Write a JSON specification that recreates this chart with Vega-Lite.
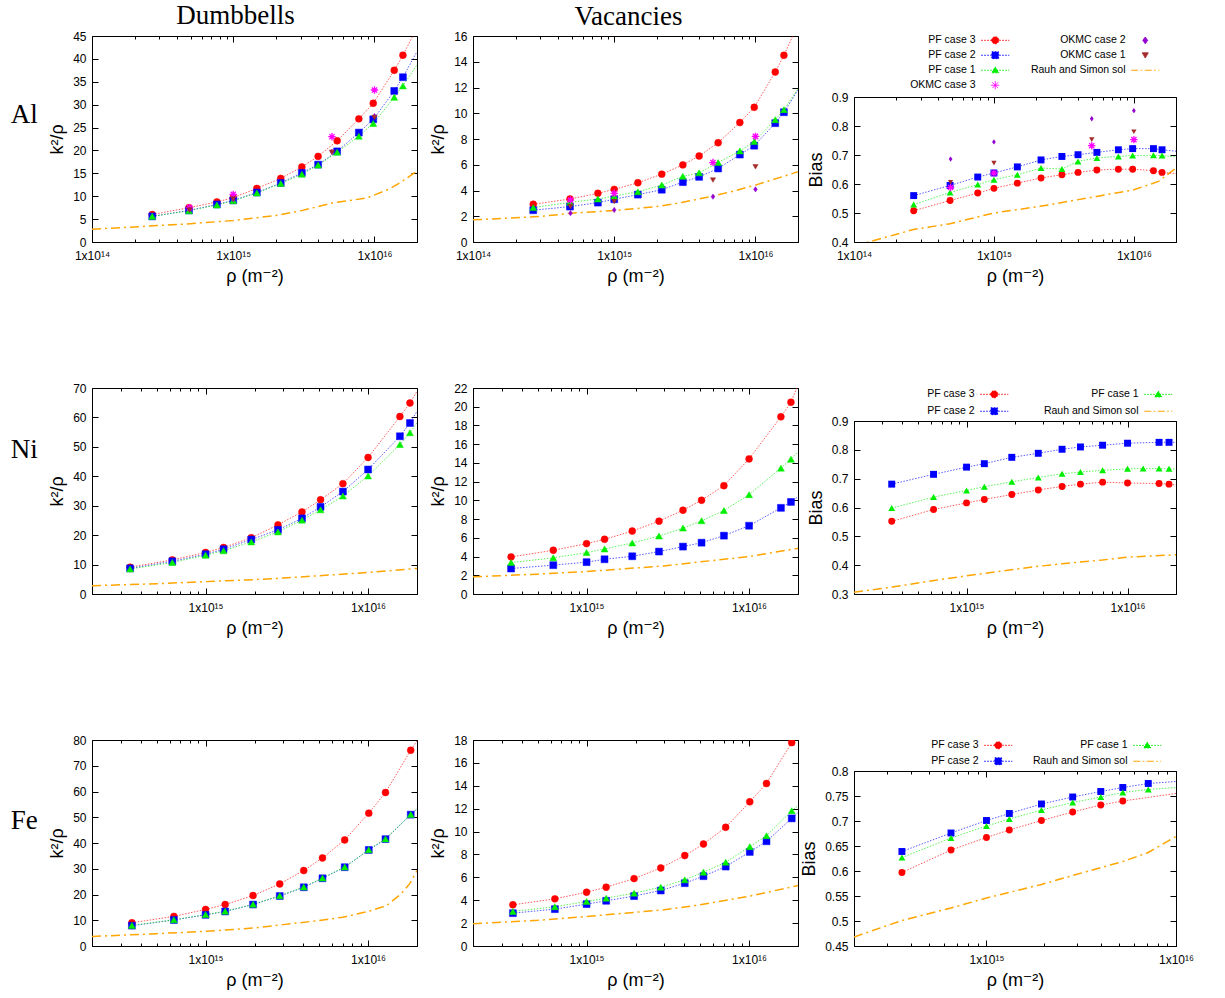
{
"$schema":"https://vega.github.io/schema/vega-lite/v6.json",
"background":"white",
"padding":{"left":10,"top":0,"right":5,"bottom":5},
"columns":3,"bounds":"flush","align":"all","spacing":{"row":146,"column":56},
"resolve":{"scale":{"color":"independent","stroke":"independent","shape":"independent","fill":"independent","strokeDash":"independent"}},
"config":{
 "view":{"stroke":"#000","strokeWidth":1},
 "axis":{"grid":false,"domain":false,"ticks":true,"tickColor":"#000","tickWidth":1,"labelFont":"Liberation Sans, DejaVu Sans, sans-serif","labelFontSize":12,"labelColor":"#000","labelFlush":false,"labelOverlap":false,"labelBound":false,"titleFont":"Liberation Sans, DejaVu Sans, sans-serif","titleFontSize":18,"titleFontWeight":"normal","titleColor":"#000"},
 "title":{"font":"Liberation Serif","fontSize":27,"fontWeight":"normal","color":"#000"},
 "legend":{"labelFont":"Liberation Sans, DejaVu Sans, sans-serif","labelFontSize":10.5,"labelColor":"#000"}
},
"concat":[
{
 "width":325,"height":206,
 "title":{"text":"Al","orient":"left","angle":0,"align":"right","baseline":"alphabetic","offset":-16,"dy":-16},
 "data":{"values":[
{"s":"Rauh and Simon sol","g":"th","p":0,"x":1e14,"y":2.8},{"s":"Rauh and Simon sol","g":"th","p":0,"x":2e14,"y":3.3},{"s":"Rauh and Simon sol","g":"th","p":0,"x":5e14,"y":4.0},{"s":"Rauh and Simon sol","g":"th","p":0,"x":1e15,"y":4.7},{"s":"Rauh and Simon sol","g":"th","p":0,"x":2e15,"y":5.8},{"s":"Rauh and Simon sol","g":"th","p":0,"x":3e15,"y":6.8},{"s":"Rauh and Simon sol","g":"th","p":0,"x":5e15,"y":8.5},{"s":"Rauh and Simon sol","g":"th","p":0,"x":8.8e15,"y":9.6},{"s":"Rauh and Simon sol","g":"th","p":0,"x":1.28e16,"y":11.6},{"s":"Rauh and Simon sol","g":"th","p":0,"x":1.51e16,"y":12.9},{"s":"Rauh and Simon sol","g":"th","p":0,"x":2e16,"y":15.5},
{"s":"PF case 3","g":"pf","p":1,"x":2.67e14,"y":6.0},{"s":"PF case 3","g":"pf","p":1,"x":4.86e14,"y":7.5},{"s":"PF case 3","g":"pf","p":1,"x":7.66e14,"y":8.75},{"s":"PF case 3","g":"pf","p":1,"x":1e15,"y":9.7},{"s":"PF case 3","g":"pf","p":1,"x":1.47e15,"y":11.7},{"s":"PF case 3","g":"pf","p":1,"x":2.17e15,"y":13.9},{"s":"PF case 3","g":"pf","p":1,"x":3.06e15,"y":16.4},{"s":"PF case 3","g":"pf","p":1,"x":3.99e15,"y":18.7},{"s":"PF case 3","g":"pf","p":1,"x":5.44e15,"y":22.1},{"s":"PF case 3","g":"pf","p":1,"x":7.75e15,"y":26.9},{"s":"PF case 3","g":"pf","p":1,"x":9.8e15,"y":30.3},{"s":"PF case 3","g":"pf","p":1,"x":1.38e16,"y":37.5},{"s":"PF case 3","g":"pf","p":1,"x":1.59e16,"y":40.8},{"s":"PF case 3","g":"pf","p":0,"x":2e16,"y":46.8},
{"s":"PF case 2","g":"pf","p":1,"x":2.67e14,"y":5.6},{"s":"PF case 2","g":"pf","p":1,"x":4.86e14,"y":6.9},{"s":"PF case 2","g":"pf","p":1,"x":7.66e14,"y":8.2},{"s":"PF case 2","g":"pf","p":1,"x":1e15,"y":9.1},{"s":"PF case 2","g":"pf","p":1,"x":1.47e15,"y":10.8},{"s":"PF case 2","g":"pf","p":1,"x":2.17e15,"y":12.9},{"s":"PF case 2","g":"pf","p":1,"x":3.06e15,"y":15.1},{"s":"PF case 2","g":"pf","p":1,"x":3.99e15,"y":16.9},{"s":"PF case 2","g":"pf","p":1,"x":5.44e15,"y":19.8},{"s":"PF case 2","g":"pf","p":1,"x":7.75e15,"y":23.9},{"s":"PF case 2","g":"pf","p":1,"x":9.8e15,"y":26.8},{"s":"PF case 2","g":"pf","p":1,"x":1.38e16,"y":33.0},{"s":"PF case 2","g":"pf","p":1,"x":1.59e16,"y":36.0},{"s":"PF case 2","g":"pf","p":0,"x":2e16,"y":41.6},
{"s":"PF case 1","g":"pf","p":1,"x":2.67e14,"y":5.6},{"s":"PF case 1","g":"pf","p":1,"x":4.86e14,"y":6.8},{"s":"PF case 1","g":"pf","p":1,"x":7.66e14,"y":8.1},{"s":"PF case 1","g":"pf","p":1,"x":1e15,"y":9.0},{"s":"PF case 1","g":"pf","p":1,"x":1.47e15,"y":10.7},{"s":"PF case 1","g":"pf","p":1,"x":2.17e15,"y":12.8},{"s":"PF case 1","g":"pf","p":1,"x":3.06e15,"y":14.8},{"s":"PF case 1","g":"pf","p":1,"x":3.99e15,"y":16.8},{"s":"PF case 1","g":"pf","p":1,"x":5.44e15,"y":19.6},{"s":"PF case 1","g":"pf","p":1,"x":7.75e15,"y":23.1},{"s":"PF case 1","g":"pf","p":1,"x":9.8e15,"y":25.9},{"s":"PF case 1","g":"pf","p":1,"x":1.38e16,"y":31.6},{"s":"PF case 1","g":"pf","p":1,"x":1.59e16,"y":34.1},{"s":"PF case 1","g":"pf","p":0,"x":2e16,"y":38.7},
{"s":"OKMC case 3","g":"okmc","p":1,"x":4.9e14,"y":7.5},{"s":"OKMC case 3","g":"okmc","p":1,"x":1e15,"y":10.4},{"s":"OKMC case 3","g":"okmc","p":1,"x":5e15,"y":23.0},{"s":"OKMC case 3","g":"okmc","p":1,"x":1e16,"y":33.2},
{"s":"OKMC case 2","g":"okmc","p":1,"x":4.9e14,"y":7.1},{"s":"OKMC case 2","g":"okmc","p":1,"x":1e15,"y":9.3},{"s":"OKMC case 2","g":"okmc","p":1,"x":5e15,"y":19.7},{"s":"OKMC case 2","g":"okmc","p":1,"x":1e16,"y":27.5},
{"s":"OKMC case 1","g":"okmc","p":1,"x":4.9e14,"y":7.0},{"s":"OKMC case 1","g":"okmc","p":1,"x":1e15,"y":9.4},{"s":"OKMC case 1","g":"okmc","p":1,"x":5e15,"y":19.6},{"s":"OKMC case 1","g":"okmc","p":1,"x":1e16,"y":27.2}
 ]},
 "layer":[
  {"transform":[{"filter":"datum.g=='th'"}],"mark":{"type":"line","color":"#ffa500","strokeWidth":1.5,"strokeDash":[9,4,2,4],"clip":true},
   "encoding":{
    "x":{"field":"x","type":"quantitative","scale":{"type":"log","domain":[1e14,2e16],"nice":false},"axis":{"orient":"top","values":[1e14,2e14,3e14,4e14,5e14,6e14,7e14,8e14,9e14,1e15,2e15,3e15,4e15,5e15,6e15,7e15,8e15,9e15,1e16,2e16],"labels":false,"tickSize":{"condition":{"test":"datum.value==1e14||datum.value==1e15||datum.value==1e16","value":-6},"value":-3},"title":"Dumbbells","titleFont":"Liberation Serif","titleFontSize":27,"titleFontWeight":"normal","titleX":143,"titleY":-13,"titleBaseline":"alphabetic","titleAlign":"center","titleAngle":0}},
    "y":{"field":"y","type":"quantitative","scale":{"domain":[0,45],"nice":false,"zero":false},"axis":{"orient":"right","values":[0,5,10,15,20,25,30,35,40,45],"labels":false,"tickSize":-6,"title":null}}}},
  {"transform":[{"filter":"datum.g=='pf'"}],"mark":{"type":"line","strokeWidth":1,"strokeDash":[1.5,1.5],"opacity":0.65,"clip":true},
   "encoding":{
    "x":{"field":"x","type":"quantitative","scale":{"type":"log","domain":[1e14,2e16],"nice":false},"axis":null},
    "y":{"field":"y","type":"quantitative","scale":{"domain":[0,45],"nice":false,"zero":false},"axis":null},
    "stroke":{"field":"s","type":"nominal","scale":{"domain":["PF case 3","PF case 2","PF case 1","OKMC case 3","OKMC case 2","OKMC case 1","Rauh and Simon sol"],"range":["#ff0000","#0000ff","#00ee00","#ff00ff","#9400d3","#a52a2a","#ffa500"]},"legend":null}}},
  {"transform":[{"filter":"datum.p==1"}],"mark":{"type":"point","filled":true,"opacity":1,"clip":true},
   "encoding":{
    "x":{"field":"x","type":"quantitative","scale":{"type":"log","domain":[1e14,2e16],"nice":false},"axis":{"orient":"bottom","values":[1e14,2e14,3e14,4e14,5e14,6e14,7e14,8e14,9e14,1e15,2e15,3e15,4e15,5e15,6e15,7e15,8e15,9e15,1e16,2e16],"labelExpr":"datum.value==1e14?'1x10¹⁴':datum.value==1e15?'1x10¹⁵':datum.value==1e16?'1x10¹⁶':''","tickSize":{"condition":{"test":"datum.value==1e14||datum.value==1e15||datum.value==1e16","value":-6},"value":-3},"labelPadding":14,"title":"ρ (m⁻²)","titlePadding":3}},
    "y":{"field":"y","type":"quantitative","scale":{"domain":[0,45],"nice":false,"zero":false},"axis":{"orient":"left","values":[0,5,10,15,20,25,30,35,40,45],"tickSize":-6,"labelPadding":12,"title":"k²/ρ","titlePadding":6}},
    "color":{"field":"s","type":"nominal","scale":{"domain":["PF case 3","PF case 2","PF case 1","OKMC case 3","OKMC case 2","OKMC case 1","Rauh and Simon sol"],"range":["#ff0000","#0000ff","#00ee00","#ff00ff","#9400d3","#a52a2a","#ffa500"]},"legend":null},
    "stroke":{"field":"s","type":"nominal","scale":{"domain":["PF case 3","PF case 2","PF case 1","OKMC case 3","OKMC case 2","OKMC case 1","Rauh and Simon sol"],"range":["#ff0000","#0000ff","#00ee00","#ff00ff","#9400d3","#a52a2a","#ffa500"]},"legend":null},
    "shape":{"field":"s","type":"nominal","scale":{"domain":["PF case 3","PF case 2","PF case 1","OKMC case 3","OKMC case 2","OKMC case 1","Rauh and Simon sol"],"range":["circle","square","triangle-up","M-1,0H1M0,-1V1M-0.7,-0.7L0.7,0.7M-0.7,0.7L0.7,-0.7","M0,-1L0.7,0L0,1L-0.7,0Z","triangle-down","circle"]},"legend":null},
    "size":{"condition":[{"test":"datum.s=='OKMC case 3'","value":55},{"test":"datum.g=='okmc'","value":28}],"value":48},
    "strokeWidth":{"condition":{"test":"datum.s=='OKMC case 3'","value":1.3},"value":0.5}}}
 ],
 "resolve":{"axis":{"x":"independent","y":"independent"}}
},
{
 "width":325,"height":206,
 "data":{"values":[
{"s":"Rauh and Simon sol","g":"th","p":0,"x":1e14,"y":1.72},{"s":"Rauh and Simon sol","g":"th","p":0,"x":3e14,"y":1.98},{"s":"Rauh and Simon sol","g":"th","p":0,"x":5e14,"y":2.24},{"s":"Rauh and Simon sol","g":"th","p":0,"x":1e15,"y":2.44},{"s":"Rauh and Simon sol","g":"th","p":0,"x":2e15,"y":2.75},{"s":"Rauh and Simon sol","g":"th","p":0,"x":3e15,"y":3.06},{"s":"Rauh and Simon sol","g":"th","p":0,"x":5e15,"y":3.57},{"s":"Rauh and Simon sol","g":"th","p":0,"x":7e15,"y":3.96},{"s":"Rauh and Simon sol","g":"th","p":0,"x":1e16,"y":4.42},{"s":"Rauh and Simon sol","g":"th","p":0,"x":2e16,"y":5.45},
{"s":"PF case 3","g":"pf","p":1,"x":2.67e14,"y":2.93},{"s":"PF case 3","g":"pf","p":1,"x":4.86e14,"y":3.34},{"s":"PF case 3","g":"pf","p":1,"x":7.66e14,"y":3.78},{"s":"PF case 3","g":"pf","p":1,"x":1e15,"y":4.09},{"s":"PF case 3","g":"pf","p":1,"x":1.47e15,"y":4.6},{"s":"PF case 3","g":"pf","p":1,"x":2.17e15,"y":5.27},{"s":"PF case 3","g":"pf","p":1,"x":3.06e15,"y":5.99},{"s":"PF case 3","g":"pf","p":1,"x":3.99e15,"y":6.68},{"s":"PF case 3","g":"pf","p":1,"x":5.44e15,"y":7.71},{"s":"PF case 3","g":"pf","p":1,"x":7.75e15,"y":9.28},{"s":"PF case 3","g":"pf","p":1,"x":9.8e15,"y":10.46},{"s":"PF case 3","g":"pf","p":1,"x":1.38e16,"y":13.2},{"s":"PF case 3","g":"pf","p":1,"x":1.59e16,"y":14.5},{"s":"PF case 3","g":"pf","p":0,"x":2e16,"y":16.9},
{"s":"PF case 2","g":"pf","p":1,"x":2.67e14,"y":2.47},{"s":"PF case 2","g":"pf","p":1,"x":4.86e14,"y":2.75},{"s":"PF case 2","g":"pf","p":1,"x":7.66e14,"y":3.06},{"s":"PF case 2","g":"pf","p":1,"x":1e15,"y":3.32},{"s":"PF case 2","g":"pf","p":1,"x":1.47e15,"y":3.68},{"s":"PF case 2","g":"pf","p":1,"x":2.17e15,"y":4.06},{"s":"PF case 2","g":"pf","p":1,"x":3.06e15,"y":4.65},{"s":"PF case 2","g":"pf","p":1,"x":3.99e15,"y":5.06},{"s":"PF case 2","g":"pf","p":1,"x":5.44e15,"y":5.71},{"s":"PF case 2","g":"pf","p":1,"x":7.75e15,"y":6.79},{"s":"PF case 2","g":"pf","p":1,"x":9.8e15,"y":7.48},{"s":"PF case 2","g":"pf","p":1,"x":1.38e16,"y":9.23},{"s":"PF case 2","g":"pf","p":1,"x":1.59e16,"y":10.08},{"s":"PF case 2","g":"pf","p":0,"x":2e16,"y":11.8},
{"s":"PF case 1","g":"pf","p":1,"x":2.67e14,"y":2.67},{"s":"PF case 1","g":"pf","p":1,"x":4.86e14,"y":3.08},{"s":"PF case 1","g":"pf","p":1,"x":7.66e14,"y":3.34},{"s":"PF case 1","g":"pf","p":1,"x":1e15,"y":3.57},{"s":"PF case 1","g":"pf","p":1,"x":1.47e15,"y":3.9},{"s":"PF case 1","g":"pf","p":1,"x":2.17e15,"y":4.42},{"s":"PF case 1","g":"pf","p":1,"x":3.06e15,"y":5.1},{"s":"PF case 1","g":"pf","p":1,"x":3.99e15,"y":5.37},{"s":"PF case 1","g":"pf","p":1,"x":5.44e15,"y":6.17},{"s":"PF case 1","g":"pf","p":1,"x":7.75e15,"y":7.07},{"s":"PF case 1","g":"pf","p":1,"x":9.8e15,"y":7.8},{"s":"PF case 1","g":"pf","p":1,"x":1.38e16,"y":9.5},{"s":"PF case 1","g":"pf","p":1,"x":1.59e16,"y":10.28},{"s":"PF case 1","g":"pf","p":0,"x":2e16,"y":11.9},
{"s":"OKMC case 3","g":"okmc","p":1,"x":4.9e14,"y":3.26},{"s":"OKMC case 3","g":"okmc","p":1,"x":1e15,"y":3.78},{"s":"OKMC case 3","g":"okmc","p":1,"x":5e15,"y":6.17},{"s":"OKMC case 3","g":"okmc","p":1,"x":1e16,"y":8.2},
{"s":"OKMC case 2","g":"okmc","p":1,"x":4.9e14,"y":2.24},{"s":"OKMC case 2","g":"okmc","p":1,"x":1e15,"y":2.49},{"s":"OKMC case 2","g":"okmc","p":1,"x":5e15,"y":3.52},{"s":"OKMC case 2","g":"okmc","p":1,"x":1e16,"y":4.09},
{"s":"OKMC case 1","g":"okmc","p":1,"x":4.9e14,"y":2.75},{"s":"OKMC case 1","g":"okmc","p":1,"x":1e15,"y":3.14},{"s":"OKMC case 1","g":"okmc","p":1,"x":5e15,"y":4.81},{"s":"OKMC case 1","g":"okmc","p":1,"x":1e16,"y":5.84}
 ]},
 "layer":[
  {"transform":[{"filter":"datum.g=='th'"}],"mark":{"type":"line","color":"#ffa500","strokeWidth":1.5,"strokeDash":[9,4,2,4],"clip":true},
   "encoding":{
    "x":{"field":"x","type":"quantitative","scale":{"type":"log","domain":[1e14,2e16],"nice":false},"axis":{"orient":"top","values":[1e14,2e14,3e14,4e14,5e14,6e14,7e14,8e14,9e14,1e15,2e15,3e15,4e15,5e15,6e15,7e15,8e15,9e15,1e16,2e16],"labels":false,"tickSize":{"condition":{"test":"datum.value==1e14||datum.value==1e15||datum.value==1e16","value":-6},"value":-3},"title":"Vacancies","titleFont":"Liberation Serif","titleFontSize":27,"titleFontWeight":"normal","titleX":155,"titleY":-12,"titleBaseline":"alphabetic","titleAlign":"center","titleAngle":0}},
    "y":{"field":"y","type":"quantitative","scale":{"domain":[0,16],"nice":false,"zero":false},"axis":{"orient":"right","values":[0,2,4,6,8,10,12,14,16],"labels":false,"tickSize":-6,"title":null}}}},
  {"transform":[{"filter":"datum.g=='pf'"}],"mark":{"type":"line","strokeWidth":1,"strokeDash":[1.5,1.5],"opacity":0.65,"clip":true},
   "encoding":{
    "x":{"field":"x","type":"quantitative","scale":{"type":"log","domain":[1e14,2e16],"nice":false},"axis":null},
    "y":{"field":"y","type":"quantitative","scale":{"domain":[0,16],"nice":false,"zero":false},"axis":null},
    "stroke":{"field":"s","type":"nominal","scale":{"domain":["PF case 3","PF case 2","PF case 1","OKMC case 3","OKMC case 2","OKMC case 1","Rauh and Simon sol"],"range":["#ff0000","#0000ff","#00ee00","#ff00ff","#9400d3","#a52a2a","#ffa500"]},"legend":null}}},
  {"transform":[{"filter":"datum.p==1"}],"mark":{"type":"point","filled":true,"opacity":1,"clip":true},
   "encoding":{
    "x":{"field":"x","type":"quantitative","scale":{"type":"log","domain":[1e14,2e16],"nice":false},"axis":{"orient":"bottom","values":[1e14,2e14,3e14,4e14,5e14,6e14,7e14,8e14,9e14,1e15,2e15,3e15,4e15,5e15,6e15,7e15,8e15,9e15,1e16,2e16],"labelExpr":"datum.value==1e14?'1x10¹⁴':datum.value==1e15?'1x10¹⁵':datum.value==1e16?'1x10¹⁶':''","tickSize":{"condition":{"test":"datum.value==1e14||datum.value==1e15||datum.value==1e16","value":-6},"value":-3},"labelPadding":14,"title":"ρ (m⁻²)","titlePadding":3}},
    "y":{"field":"y","type":"quantitative","scale":{"domain":[0,16],"nice":false,"zero":false},"axis":{"orient":"left","values":[0,2,4,6,8,10,12,14,16],"tickSize":-6,"labelPadding":12,"title":"k²/ρ","titlePadding":6}},
    "color":{"field":"s","type":"nominal","scale":{"domain":["PF case 3","PF case 2","PF case 1","OKMC case 3","OKMC case 2","OKMC case 1","Rauh and Simon sol"],"range":["#ff0000","#0000ff","#00ee00","#ff00ff","#9400d3","#a52a2a","#ffa500"]},"legend":null},
    "stroke":{"field":"s","type":"nominal","scale":{"domain":["PF case 3","PF case 2","PF case 1","OKMC case 3","OKMC case 2","OKMC case 1","Rauh and Simon sol"],"range":["#ff0000","#0000ff","#00ee00","#ff00ff","#9400d3","#a52a2a","#ffa500"]},"legend":null},
    "shape":{"field":"s","type":"nominal","scale":{"domain":["PF case 3","PF case 2","PF case 1","OKMC case 3","OKMC case 2","OKMC case 1","Rauh and Simon sol"],"range":["circle","square","triangle-up","M-1,0H1M0,-1V1M-0.7,-0.7L0.7,0.7M-0.7,0.7L0.7,-0.7","M0,-1L0.7,0L0,1L-0.7,0Z","triangle-down","circle"]},"legend":null},
    "size":{"condition":[{"test":"datum.s=='OKMC case 3'","value":55},{"test":"datum.g=='okmc'","value":28}],"value":48},
    "strokeWidth":{"condition":{"test":"datum.s=='OKMC case 3'","value":1.3},"value":0.5}}}
 ],
 "resolve":{"axis":{"x":"independent","y":"independent"}}
},
{
 "vconcat":[
  {"width":322,"height":61,"data":{"values":[]},"mark":"point","view":{"stroke":null}},
  {
   "width":322,"height":145,
   "data":{"values":[
{"s":"Rauh and Simon sol","g":"th","p":0,"x":1e14,"y":0.386},{"s":"Rauh and Simon sol","g":"th","p":0,"x":2.66e14,"y":0.443},{"s":"Rauh and Simon sol","g":"th","p":0,"x":4.85e14,"y":0.463},{"s":"Rauh and Simon sol","g":"th","p":0,"x":1e15,"y":0.5},{"s":"Rauh and Simon sol","g":"th","p":0,"x":2.14e15,"y":0.523},{"s":"Rauh and Simon sol","g":"th","p":0,"x":5.4e15,"y":0.557},{"s":"Rauh and Simon sol","g":"th","p":0,"x":1e16,"y":0.58},{"s":"Rauh and Simon sol","g":"th","p":0,"x":1.5e16,"y":0.609},{"s":"Rauh and Simon sol","g":"th","p":0,"x":2e16,"y":0.655},
{"s":"PF case 3","g":"pf","p":1,"x":2.67e14,"y":0.508},{"s":"PF case 3","g":"pf","p":1,"x":4.86e14,"y":0.543},{"s":"PF case 3","g":"pf","p":1,"x":7.66e14,"y":0.569},{"s":"PF case 3","g":"pf","p":1,"x":1e15,"y":0.585},{"s":"PF case 3","g":"pf","p":1,"x":1.47e15,"y":0.603},{"s":"PF case 3","g":"pf","p":1,"x":2.17e15,"y":0.621},{"s":"PF case 3","g":"pf","p":1,"x":3.06e15,"y":0.632},{"s":"PF case 3","g":"pf","p":1,"x":3.99e15,"y":0.640},{"s":"PF case 3","g":"pf","p":1,"x":5.44e15,"y":0.648},{"s":"PF case 3","g":"pf","p":1,"x":7.75e15,"y":0.651},{"s":"PF case 3","g":"pf","p":1,"x":9.8e15,"y":0.651},{"s":"PF case 3","g":"pf","p":1,"x":1.38e16,"y":0.646},{"s":"PF case 3","g":"pf","p":1,"x":1.59e16,"y":0.640},{"s":"PF case 3","g":"pf","p":0,"x":2e16,"y":0.636},
{"s":"PF case 2","g":"pf","p":1,"x":2.67e14,"y":0.560},{"s":"PF case 2","g":"pf","p":1,"x":4.86e14,"y":0.595},{"s":"PF case 2","g":"pf","p":1,"x":7.66e14,"y":0.624},{"s":"PF case 2","g":"pf","p":1,"x":1e15,"y":0.638},{"s":"PF case 2","g":"pf","p":1,"x":1.47e15,"y":0.659},{"s":"PF case 2","g":"pf","p":1,"x":2.17e15,"y":0.683},{"s":"PF case 2","g":"pf","p":1,"x":3.06e15,"y":0.695},{"s":"PF case 2","g":"pf","p":1,"x":3.99e15,"y":0.701},{"s":"PF case 2","g":"pf","p":1,"x":5.44e15,"y":0.709},{"s":"PF case 2","g":"pf","p":1,"x":7.75e15,"y":0.718},{"s":"PF case 2","g":"pf","p":1,"x":9.8e15,"y":0.722},{"s":"PF case 2","g":"pf","p":1,"x":1.38e16,"y":0.722},{"s":"PF case 2","g":"pf","p":1,"x":1.59e16,"y":0.718},{"s":"PF case 2","g":"pf","p":0,"x":2e16,"y":0.713},
{"s":"PF case 1","g":"pf","p":1,"x":2.67e14,"y":0.529},{"s":"PF case 1","g":"pf","p":1,"x":4.86e14,"y":0.571},{"s":"PF case 1","g":"pf","p":1,"x":7.66e14,"y":0.598},{"s":"PF case 1","g":"pf","p":1,"x":1e15,"y":0.615},{"s":"PF case 1","g":"pf","p":1,"x":1.47e15,"y":0.632},{"s":"PF case 1","g":"pf","p":1,"x":2.17e15,"y":0.655},{"s":"PF case 1","g":"pf","p":1,"x":3.06e15,"y":0.652},{"s":"PF case 1","g":"pf","p":1,"x":3.99e15,"y":0.678},{"s":"PF case 1","g":"pf","p":1,"x":5.44e15,"y":0.690},{"s":"PF case 1","g":"pf","p":1,"x":7.75e15,"y":0.695},{"s":"PF case 1","g":"pf","p":1,"x":9.8e15,"y":0.698},{"s":"PF case 1","g":"pf","p":1,"x":1.38e16,"y":0.699},{"s":"PF case 1","g":"pf","p":1,"x":1.59e16,"y":0.698},{"s":"PF case 1","g":"pf","p":0,"x":2e16,"y":0.693},
{"s":"OKMC case 3","g":"okmc","p":1,"x":4.9e14,"y":0.588},{"s":"OKMC case 3","g":"okmc","p":1,"x":1e15,"y":0.638},{"s":"OKMC case 3","g":"okmc","p":1,"x":5e15,"y":0.732},{"s":"OKMC case 3","g":"okmc","p":1,"x":1e16,"y":0.753},
{"s":"OKMC case 2","g":"okmc","p":1,"x":4.9e14,"y":0.686},{"s":"OKMC case 2","g":"okmc","p":1,"x":1e15,"y":0.745},{"s":"OKMC case 2","g":"okmc","p":1,"x":5e15,"y":0.825},{"s":"OKMC case 2","g":"okmc","p":1,"x":1e16,"y":0.853},
{"s":"OKMC case 1","g":"okmc","p":1,"x":4.9e14,"y":0.606},{"s":"OKMC case 1","g":"okmc","p":1,"x":1e15,"y":0.672},{"s":"OKMC case 1","g":"okmc","p":1,"x":5e15,"y":0.753},{"s":"OKMC case 1","g":"okmc","p":1,"x":1e16,"y":0.780}
   ]},
   "encoding":{
    "x":{"field":"x","type":"quantitative","scale":{"type":"log","domain":[1e14,2e16],"nice":false},"axis":null},
    "y":{"field":"y","type":"quantitative","scale":{"domain":[0.4,0.9],"nice":false,"zero":false},"axis":null}},
   "layer":[
    {"transform":[{"filter":"datum.g=='th'"}],"mark":{"type":"line","color":"#ffa500","strokeWidth":1.5,"strokeDash":[9,4,2,4],"clip":true},
     "encoding":{
      "x":{"field":"x","type":"quantitative","scale":{"type":"log","domain":[1e14,2e16],"nice":false},"axis":{"orient":"top","values":[1e14,2e14,3e14,4e14,5e14,6e14,7e14,8e14,9e14,1e15,2e15,3e15,4e15,5e15,6e15,7e15,8e15,9e15,1e16,2e16],"labels":false,"tickSize":{"condition":{"test":"datum.value==1e14||datum.value==1e15||datum.value==1e16","value":-6},"value":-3},"title":null}},
      "y":{"field":"y","type":"quantitative","scale":{"domain":[0.4,0.9],"nice":false,"zero":false},"axis":{"orient":"right","values":[0.4,0.5,0.6,0.7,0.8,0.9],"labels":false,"tickSize":-6,"title":null}}}},
    {"transform":[{"filter":"datum.g=='pf'"}],"mark":{"type":"line","strokeWidth":1,"strokeOpacity":0.65,"clip":true},
     "encoding":{
      "stroke":{"field":"s","type":"nominal","scale":{"domain":["PF case 3","PF case 2","PF case 1","OKMC case 3","OKMC case 2","OKMC case 1","Rauh and Simon sol"],"range":["#ff0000","#0000ff","#00ee00","#ff00ff","#9400d3","#a52a2a","#ffa500"]}},
      "strokeDash":{"field":"s","type":"nominal","scale":{"domain":["PF case 3","PF case 2","PF case 1","OKMC case 3","OKMC case 2","OKMC case 1","Rauh and Simon sol"],"range":[[1.5,1.5],[1.5,1.5],[1.5,1.5],[1,0],[1,0],[1,0],[7,2.5,1.5,2.5]]}}}},
    {"transform":[{"filter":"datum.p==1&&datum.s=='PF case 3'"}],"mark":{"type":"point","filled":true,"shape":"circle","color":"#ff0000","size":48,"opacity":1,"clip":true},
     "encoding":{
      "x":{"field":"x","type":"quantitative","scale":{"type":"log","domain":[1e14,2e16],"nice":false},"axis":{"orient":"bottom","values":[1e14,2e14,3e14,4e14,5e14,6e14,7e14,8e14,9e14,1e15,2e15,3e15,4e15,5e15,6e15,7e15,8e15,9e15,1e16,2e16],"labelExpr":"datum.value==1e14?'1x10¹⁴':datum.value==1e15?'1x10¹⁵':datum.value==1e16?'1x10¹⁶':''","tickSize":{"condition":{"test":"datum.value==1e14||datum.value==1e15||datum.value==1e16","value":-6},"value":-3},"labelPadding":14,"title":"ρ (m⁻²)","titlePadding":3}},
      "y":{"field":"y","type":"quantitative","scale":{"domain":[0.4,0.9],"nice":false,"zero":false},"axis":{"orient":"left","values":[0.4,0.5,0.6,0.7,0.8,0.9],"format":".1f","tickSize":-6,"labelPadding":12,"title":"Bias","titlePadding":6}}}},
    {"transform":[{"filter":"datum.p==1&&datum.s=='PF case 2'"}],"mark":{"type":"point","filled":true,"shape":"square","color":"#0000ff","size":48,"opacity":1,"clip":true}},
    {"transform":[{"filter":"datum.p==1&&datum.s=='PF case 1'"}],"mark":{"type":"point","filled":true,"shape":"triangle-up","color":"#00ee00","size":48,"opacity":1,"clip":true}},
    {"transform":[{"filter":"datum.s=='OKMC case 3'"}],"mark":{"type":"point","filled":false,"shape":"M-1,0H1M0,-1V1M-0.7,-0.7L0.7,0.7M-0.7,0.7L0.7,-0.7","color":"#ff00ff","size":55,"strokeWidth":1.3,"opacity":1,"clip":true}},
    {"transform":[{"filter":"datum.s=='OKMC case 2'"}],"mark":{"type":"point","filled":true,"shape":"M0,-1L0.7,0L0,1L-0.7,0Z","color":"#9400d3","size":28,"opacity":1,"clip":true}},
    {"transform":[{"filter":"datum.s=='OKMC case 1'"}],"mark":{"type":"point","filled":true,"shape":"triangle-down","color":"#a52a2a","size":28,"opacity":1,"clip":true}},
    {"transform":[{"filter":"datum.p==99"}],"mark":{"type":"point","filled":true,"opacity":1},
     "encoding":{
      "shape":{"field":"s","type":"nominal","scale":{"domain":["PF case 3","PF case 2","PF case 1","OKMC case 3","OKMC case 2","OKMC case 1","Rauh and Simon sol"],"range":["M-3.5,0H3.5M-0.9,0A0.9,0.9,0,1,1,0.9,0A0.9,0.9,0,1,1,-0.9,0Z","M-3.5,0H3.5M-0.85,-0.85H0.85V0.85H-0.85Z","M-3.5,0H3.5M0,-0.85L0.9,0.65H-0.9Z","M-1,0H1M0,-1V1M-0.7,-0.7L0.7,0.7M-0.7,0.7L0.7,-0.7","M0,-0.85L0.6,0L0,0.85L-0.6,0Z","M-0.75,-0.6H0.75L0,0.7Z","M-3.5,0H3.5"]},
       "legend":{"title":null,"orient":"none","legendX":136,"legendY":-62,"direction":"vertical","columns":2,"gridAlign":"each","padding":0,"labelAlign":"right","labelOffset":-25,"rowPadding":3,"columnPadding":18,"symbolSize":64,"symbolStrokeWidth":1,"symbolOpacity":1}},
      "fill":{"field":"s","type":"nominal","scale":{"domain":["PF case 3","PF case 2","PF case 1","OKMC case 3","OKMC case 2","OKMC case 1","Rauh and Simon sol"],"range":["#ff0000","#0000ff","#00ee00","#ff00ff","#9400d3","#a52a2a","#ffa500"]}},
      "stroke":{"field":"s","type":"nominal","scale":{"domain":["PF case 3","PF case 2","PF case 1","OKMC case 3","OKMC case 2","OKMC case 1","Rauh and Simon sol"],"range":["#ff0000","#0000ff","#00ee00","#ff00ff","#9400d3","#a52a2a","#ffa500"]}},
      "strokeDash":{"field":"s","type":"nominal","scale":{"domain":["PF case 3","PF case 2","PF case 1","OKMC case 3","OKMC case 2","OKMC case 1","Rauh and Simon sol"],"range":[[1.5,1.5],[1.5,1.5],[1.5,1.5],[1,0],[1,0],[1,0],[7,2.5,1.5,2.5]]}}}}
   ],
   "resolve":{"axis":{"x":"independent","y":"independent"}}
  }
 ],
 "spacing":0,"bounds":"flush",
 "resolve":{"scale":{"color":"independent","stroke":"independent","shape":"independent","fill":"independent","strokeDash":"independent"}}
},
{
 "width":325,"height":206,
 "title":{"text":"Ni","orient":"left","angle":0,"align":"right","baseline":"alphabetic","offset":-16,"dy":-33},
 "data":{"values":[
{"s":"Rauh and Simon sol","g":"th","p":0,"x":2e14,"y":2.8},{"s":"Rauh and Simon sol","g":"th","p":0,"x":5e14,"y":3.5},{"s":"Rauh and Simon sol","g":"th","p":0,"x":1e15,"y":4.2},{"s":"Rauh and Simon sol","g":"th","p":0,"x":2e15,"y":4.9},{"s":"Rauh and Simon sol","g":"th","p":0,"x":3e15,"y":5.4},{"s":"Rauh and Simon sol","g":"th","p":0,"x":5e15,"y":6.2},{"s":"Rauh and Simon sol","g":"th","p":0,"x":1e16,"y":7.3},{"s":"Rauh and Simon sol","g":"th","p":0,"x":2e16,"y":8.7},
{"s":"PF case 3","g":"pf","p":1,"x":3.43e14,"y":9.1},{"s":"PF case 3","g":"pf","p":1,"x":6.24e14,"y":11.6},{"s":"PF case 3","g":"pf","p":1,"x":1e15,"y":14.1},{"s":"PF case 3","g":"pf","p":1,"x":1.29e15,"y":15.8},{"s":"PF case 3","g":"pf","p":1,"x":1.91e15,"y":19.1},{"s":"PF case 3","g":"pf","p":1,"x":2.79e15,"y":23.5},{"s":"PF case 3","g":"pf","p":1,"x":3.92e15,"y":27.9},{"s":"PF case 3","g":"pf","p":1,"x":5.1e15,"y":32.0},{"s":"PF case 3","g":"pf","p":1,"x":7.0e15,"y":37.5},{"s":"PF case 3","g":"pf","p":1,"x":1e16,"y":46.4},{"s":"PF case 3","g":"pf","p":1,"x":1.57e16,"y":60.3},{"s":"PF case 3","g":"pf","p":1,"x":1.81e16,"y":64.9},{"s":"PF case 3","g":"pf","p":0,"x":2e16,"y":68.9},
{"s":"PF case 2","g":"pf","p":1,"x":3.43e14,"y":8.7},{"s":"PF case 2","g":"pf","p":1,"x":6.24e14,"y":11.1},{"s":"PF case 2","g":"pf","p":1,"x":1e15,"y":13.5},{"s":"PF case 2","g":"pf","p":1,"x":1.29e15,"y":15.2},{"s":"PF case 2","g":"pf","p":1,"x":1.91e15,"y":18.5},{"s":"PF case 2","g":"pf","p":1,"x":2.79e15,"y":21.8},{"s":"PF case 2","g":"pf","p":1,"x":3.92e15,"y":25.7},{"s":"PF case 2","g":"pf","p":1,"x":5.1e15,"y":29.6},{"s":"PF case 2","g":"pf","p":1,"x":7.0e15,"y":34.8},{"s":"PF case 2","g":"pf","p":1,"x":1e16,"y":42.3},{"s":"PF case 2","g":"pf","p":1,"x":1.57e16,"y":53.6},{"s":"PF case 2","g":"pf","p":1,"x":1.81e16,"y":58.1},{"s":"PF case 2","g":"pf","p":0,"x":2e16,"y":62.1},
{"s":"PF case 1","g":"pf","p":1,"x":3.43e14,"y":8.5},{"s":"PF case 1","g":"pf","p":1,"x":6.24e14,"y":10.7},{"s":"PF case 1","g":"pf","p":1,"x":1e15,"y":13.2},{"s":"PF case 1","g":"pf","p":1,"x":1.29e15,"y":14.7},{"s":"PF case 1","g":"pf","p":1,"x":1.91e15,"y":17.7},{"s":"PF case 1","g":"pf","p":1,"x":2.79e15,"y":21.1},{"s":"PF case 1","g":"pf","p":1,"x":3.92e15,"y":25.1},{"s":"PF case 1","g":"pf","p":1,"x":5.1e15,"y":28.6},{"s":"PF case 1","g":"pf","p":1,"x":7.0e15,"y":33.3},{"s":"PF case 1","g":"pf","p":1,"x":1e16,"y":40.1},{"s":"PF case 1","g":"pf","p":1,"x":1.57e16,"y":50.8},{"s":"PF case 1","g":"pf","p":1,"x":1.81e16,"y":54.8},{"s":"PF case 1","g":"pf","p":0,"x":2e16,"y":58.1}
 ]},
 "layer":[
  {"transform":[{"filter":"datum.g=='th'"}],"mark":{"type":"line","color":"#ffa500","strokeWidth":1.5,"strokeDash":[9,4,2,4],"clip":true},
   "encoding":{
    "x":{"field":"x","type":"quantitative","scale":{"type":"log","domain":[2e14,2e16],"nice":false},"axis":{"orient":"top","values":[2e14,3e14,4e14,5e14,6e14,7e14,8e14,9e14,1e15,2e15,3e15,4e15,5e15,6e15,7e15,8e15,9e15,1e16,2e16],"labels":false,"tickSize":{"condition":{"test":"datum.value==1e14||datum.value==1e15||datum.value==1e16","value":-6},"value":-3},"title":null}},
    "y":{"field":"y","type":"quantitative","scale":{"domain":[0,70],"nice":false,"zero":false},"axis":{"orient":"right","values":[0,10,20,30,40,50,60,70],"labels":false,"tickSize":-6,"title":null}}}},
  {"transform":[{"filter":"datum.g=='pf'"}],"mark":{"type":"line","strokeWidth":1,"strokeDash":[1.5,1.5],"opacity":0.65,"clip":true},
   "encoding":{
    "x":{"field":"x","type":"quantitative","scale":{"type":"log","domain":[2e14,2e16],"nice":false},"axis":null},
    "y":{"field":"y","type":"quantitative","scale":{"domain":[0,70],"nice":false,"zero":false},"axis":null},
    "stroke":{"field":"s","type":"nominal","scale":{"domain":["PF case 3","PF case 2","PF case 1","Rauh and Simon sol"],"range":["#ff0000","#0000ff","#00ee00","#ffa500"]},"legend":null}}},
  {"transform":[{"filter":"datum.p==1"}],"mark":{"type":"point","filled":true,"opacity":1,"clip":true},
   "encoding":{
    "x":{"field":"x","type":"quantitative","scale":{"type":"log","domain":[2e14,2e16],"nice":false},"axis":{"orient":"bottom","values":[2e14,3e14,4e14,5e14,6e14,7e14,8e14,9e14,1e15,2e15,3e15,4e15,5e15,6e15,7e15,8e15,9e15,1e16,2e16],"labelExpr":"datum.value==1e14?'1x10¹⁴':datum.value==1e15?'1x10¹⁵':datum.value==1e16?'1x10¹⁶':''","tickSize":{"condition":{"test":"datum.value==1e14||datum.value==1e15||datum.value==1e16","value":-6},"value":-3},"labelPadding":14,"title":"ρ (m⁻²)","titlePadding":3}},
    "y":{"field":"y","type":"quantitative","scale":{"domain":[0,70],"nice":false,"zero":false},"axis":{"orient":"left","values":[0,10,20,30,40,50,60,70],"tickSize":-6,"labelPadding":12,"title":"k²/ρ","titlePadding":6}},
    "color":{"field":"s","type":"nominal","scale":{"domain":["PF case 3","PF case 2","PF case 1","Rauh and Simon sol"],"range":["#ff0000","#0000ff","#00ee00","#ffa500"]},"legend":null},
    "stroke":{"field":"s","type":"nominal","scale":{"domain":["PF case 3","PF case 2","PF case 1","Rauh and Simon sol"],"range":["#ff0000","#0000ff","#00ee00","#ffa500"]},"legend":null},
    "shape":{"field":"s","type":"nominal","scale":{"domain":["PF case 3","PF case 2","PF case 1","Rauh and Simon sol"],"range":["circle","square","triangle-up","circle"]},"legend":null},
    "size":{"value":48},"strokeWidth":{"value":0.5}}}
 ],
 "resolve":{"axis":{"x":"independent","y":"independent"}}
},
{
 "width":325,"height":206,
 "data":{"values":[
{"s":"Rauh and Simon sol","g":"th","p":0,"x":2e14,"y":1.84},{"s":"Rauh and Simon sol","g":"th","p":0,"x":5e14,"y":2.12},{"s":"Rauh and Simon sol","g":"th","p":0,"x":1e15,"y":2.4},{"s":"Rauh and Simon sol","g":"th","p":0,"x":3e15,"y":3.0},{"s":"Rauh and Simon sol","g":"th","p":0,"x":5e15,"y":3.43},{"s":"Rauh and Simon sol","g":"th","p":0,"x":1e16,"y":4.0},{"s":"Rauh and Simon sol","g":"th","p":0,"x":2e16,"y":4.88},
{"s":"PF case 3","g":"pf","p":1,"x":3.43e14,"y":3.96},{"s":"PF case 3","g":"pf","p":1,"x":6.24e14,"y":4.67},{"s":"PF case 3","g":"pf","p":1,"x":1e15,"y":5.38},{"s":"PF case 3","g":"pf","p":1,"x":1.29e15,"y":5.84},{"s":"PF case 3","g":"pf","p":1,"x":1.91e15,"y":6.72},{"s":"PF case 3","g":"pf","p":1,"x":2.79e15,"y":7.78},{"s":"PF case 3","g":"pf","p":1,"x":3.92e15,"y":8.95},{"s":"PF case 3","g":"pf","p":1,"x":5.1e15,"y":10.01},{"s":"PF case 3","g":"pf","p":1,"x":7.0e15,"y":11.57},{"s":"PF case 3","g":"pf","p":1,"x":1e16,"y":14.43},{"s":"PF case 3","g":"pf","p":1,"x":1.57e16,"y":18.92},{"s":"PF case 3","g":"pf","p":1,"x":1.81e16,"y":20.48},{"s":"PF case 3","g":"pf","p":0,"x":2e16,"y":22.3},
{"s":"PF case 2","g":"pf","p":1,"x":3.43e14,"y":2.72},{"s":"PF case 2","g":"pf","p":1,"x":6.24e14,"y":3.08},{"s":"PF case 2","g":"pf","p":1,"x":1e15,"y":3.4},{"s":"PF case 2","g":"pf","p":1,"x":1.29e15,"y":3.71},{"s":"PF case 2","g":"pf","p":1,"x":1.91e15,"y":4.03},{"s":"PF case 2","g":"pf","p":1,"x":2.79e15,"y":4.53},{"s":"PF case 2","g":"pf","p":1,"x":3.92e15,"y":5.06},{"s":"PF case 2","g":"pf","p":1,"x":5.1e15,"y":5.48},{"s":"PF case 2","g":"pf","p":1,"x":7.0e15,"y":6.23},{"s":"PF case 2","g":"pf","p":1,"x":1e16,"y":7.29},{"s":"PF case 2","g":"pf","p":1,"x":1.57e16,"y":9.2},{"s":"PF case 2","g":"pf","p":1,"x":1.81e16,"y":9.83},{"s":"PF case 2","g":"pf","p":0,"x":2e16,"y":10.4},
{"s":"PF case 1","g":"pf","p":1,"x":3.43e14,"y":3.36},{"s":"PF case 1","g":"pf","p":1,"x":6.24e14,"y":3.86},{"s":"PF case 1","g":"pf","p":1,"x":1e15,"y":4.42},{"s":"PF case 1","g":"pf","p":1,"x":1.29e15,"y":4.81},{"s":"PF case 1","g":"pf","p":1,"x":1.91e15,"y":5.45},{"s":"PF case 1","g":"pf","p":1,"x":2.79e15,"y":6.19},{"s":"PF case 1","g":"pf","p":1,"x":3.92e15,"y":7.04},{"s":"PF case 1","g":"pf","p":1,"x":5.1e15,"y":7.82},{"s":"PF case 1","g":"pf","p":1,"x":7.0e15,"y":8.91},{"s":"PF case 1","g":"pf","p":1,"x":1e16,"y":10.61},{"s":"PF case 1","g":"pf","p":1,"x":1.57e16,"y":13.44},{"s":"PF case 1","g":"pf","p":1,"x":1.81e16,"y":14.4},{"s":"PF case 1","g":"pf","p":0,"x":2e16,"y":15.2}
 ]},
 "layer":[
  {"transform":[{"filter":"datum.g=='th'"}],"mark":{"type":"line","color":"#ffa500","strokeWidth":1.5,"strokeDash":[9,4,2,4],"clip":true},
   "encoding":{
    "x":{"field":"x","type":"quantitative","scale":{"type":"log","domain":[2e14,2e16],"nice":false},"axis":{"orient":"top","values":[2e14,3e14,4e14,5e14,6e14,7e14,8e14,9e14,1e15,2e15,3e15,4e15,5e15,6e15,7e15,8e15,9e15,1e16,2e16],"labels":false,"tickSize":{"condition":{"test":"datum.value==1e14||datum.value==1e15||datum.value==1e16","value":-6},"value":-3},"title":null}},
    "y":{"field":"y","type":"quantitative","scale":{"domain":[0,22],"nice":false,"zero":false},"axis":{"orient":"right","values":[0,2,4,6,8,10,12,14,16,18,20,22],"labels":false,"tickSize":-6,"title":null}}}},
  {"transform":[{"filter":"datum.g=='pf'"}],"mark":{"type":"line","strokeWidth":1,"strokeDash":[1.5,1.5],"opacity":0.65,"clip":true},
   "encoding":{
    "x":{"field":"x","type":"quantitative","scale":{"type":"log","domain":[2e14,2e16],"nice":false},"axis":null},
    "y":{"field":"y","type":"quantitative","scale":{"domain":[0,22],"nice":false,"zero":false},"axis":null},
    "stroke":{"field":"s","type":"nominal","scale":{"domain":["PF case 3","PF case 2","PF case 1","Rauh and Simon sol"],"range":["#ff0000","#0000ff","#00ee00","#ffa500"]},"legend":null}}},
  {"transform":[{"filter":"datum.p==1"}],"mark":{"type":"point","filled":true,"opacity":1,"clip":true},
   "encoding":{
    "x":{"field":"x","type":"quantitative","scale":{"type":"log","domain":[2e14,2e16],"nice":false},"axis":{"orient":"bottom","values":[2e14,3e14,4e14,5e14,6e14,7e14,8e14,9e14,1e15,2e15,3e15,4e15,5e15,6e15,7e15,8e15,9e15,1e16,2e16],"labelExpr":"datum.value==1e14?'1x10¹⁴':datum.value==1e15?'1x10¹⁵':datum.value==1e16?'1x10¹⁶':''","tickSize":{"condition":{"test":"datum.value==1e14||datum.value==1e15||datum.value==1e16","value":-6},"value":-3},"labelPadding":14,"title":"ρ (m⁻²)","titlePadding":3}},
    "y":{"field":"y","type":"quantitative","scale":{"domain":[0,22],"nice":false,"zero":false},"axis":{"orient":"left","values":[0,2,4,6,8,10,12,14,16,18,20,22],"tickSize":-6,"labelPadding":12,"title":"k²/ρ","titlePadding":6}},
    "color":{"field":"s","type":"nominal","scale":{"domain":["PF case 3","PF case 2","PF case 1","Rauh and Simon sol"],"range":["#ff0000","#0000ff","#00ee00","#ffa500"]},"legend":null},
    "stroke":{"field":"s","type":"nominal","scale":{"domain":["PF case 3","PF case 2","PF case 1","Rauh and Simon sol"],"range":["#ff0000","#0000ff","#00ee00","#ffa500"]},"legend":null},
    "shape":{"field":"s","type":"nominal","scale":{"domain":["PF case 3","PF case 2","PF case 1","Rauh and Simon sol"],"range":["circle","square","triangle-up","circle"]},"legend":null},
    "size":{"value":48},"strokeWidth":{"value":0.5}}}
 ],
 "resolve":{"axis":{"x":"independent","y":"independent"}}
},
{
 "vconcat":[
  {"width":322,"height":33,"data":{"values":[]},"mark":"point","view":{"stroke":null}},
  {
   "width":322,"height":173,
   "data":{"values":[
{"s":"Rauh and Simon sol","g":"th","p":0,"x":2e14,"y":0.306},{"s":"Rauh and Simon sol","g":"th","p":0,"x":3.45e14,"y":0.324},{"s":"Rauh and Simon sol","g":"th","p":0,"x":6.28e14,"y":0.347},{"s":"Rauh and Simon sol","g":"th","p":0,"x":1e15,"y":0.363},{"s":"Rauh and Simon sol","g":"th","p":0,"x":1.9e15,"y":0.384},{"s":"Rauh and Simon sol","g":"th","p":0,"x":2.78e15,"y":0.396},{"s":"Rauh and Simon sol","g":"th","p":0,"x":3.92e15,"y":0.405},{"s":"Rauh and Simon sol","g":"th","p":0,"x":7e15,"y":0.418},{"s":"Rauh and Simon sol","g":"th","p":0,"x":1e16,"y":0.428},{"s":"Rauh and Simon sol","g":"th","p":0,"x":2e16,"y":0.436},
{"s":"PF case 3","g":"pf","p":1,"x":3.43e14,"y":0.552},{"s":"PF case 3","g":"pf","p":1,"x":6.24e14,"y":0.593},{"s":"PF case 3","g":"pf","p":1,"x":1e15,"y":0.616},{"s":"PF case 3","g":"pf","p":1,"x":1.29e15,"y":0.628},{"s":"PF case 3","g":"pf","p":1,"x":1.91e15,"y":0.645},{"s":"PF case 3","g":"pf","p":1,"x":2.79e15,"y":0.661},{"s":"PF case 3","g":"pf","p":1,"x":3.92e15,"y":0.673},{"s":"PF case 3","g":"pf","p":1,"x":5.1e15,"y":0.681},{"s":"PF case 3","g":"pf","p":1,"x":7.0e15,"y":0.688},{"s":"PF case 3","g":"pf","p":1,"x":1e16,"y":0.685},{"s":"PF case 3","g":"pf","p":1,"x":1.57e16,"y":0.683},{"s":"PF case 3","g":"pf","p":1,"x":1.81e16,"y":0.681},{"s":"PF case 3","g":"pf","p":0,"x":2e16,"y":0.678},
{"s":"PF case 2","g":"pf","p":1,"x":3.43e14,"y":0.681},{"s":"PF case 2","g":"pf","p":1,"x":6.24e14,"y":0.715},{"s":"PF case 2","g":"pf","p":1,"x":1e15,"y":0.74},{"s":"PF case 2","g":"pf","p":1,"x":1.29e15,"y":0.752},{"s":"PF case 2","g":"pf","p":1,"x":1.91e15,"y":0.774},{"s":"PF case 2","g":"pf","p":1,"x":2.79e15,"y":0.788},{"s":"PF case 2","g":"pf","p":1,"x":3.92e15,"y":0.802},{"s":"PF case 2","g":"pf","p":1,"x":5.1e15,"y":0.81},{"s":"PF case 2","g":"pf","p":1,"x":7.0e15,"y":0.816},{"s":"PF case 2","g":"pf","p":1,"x":1e16,"y":0.823},{"s":"PF case 2","g":"pf","p":1,"x":1.57e16,"y":0.826},{"s":"PF case 2","g":"pf","p":1,"x":1.81e16,"y":0.826},{"s":"PF case 2","g":"pf","p":0,"x":2e16,"y":0.826},
{"s":"PF case 1","g":"pf","p":1,"x":3.43e14,"y":0.598},{"s":"PF case 1","g":"pf","p":1,"x":6.24e14,"y":0.636},{"s":"PF case 1","g":"pf","p":1,"x":1e15,"y":0.659},{"s":"PF case 1","g":"pf","p":1,"x":1.29e15,"y":0.672},{"s":"PF case 1","g":"pf","p":1,"x":1.91e15,"y":0.689},{"s":"PF case 1","g":"pf","p":1,"x":2.79e15,"y":0.704},{"s":"PF case 1","g":"pf","p":1,"x":3.92e15,"y":0.717},{"s":"PF case 1","g":"pf","p":1,"x":5.1e15,"y":0.723},{"s":"PF case 1","g":"pf","p":1,"x":7.0e15,"y":0.729},{"s":"PF case 1","g":"pf","p":1,"x":1e16,"y":0.734},{"s":"PF case 1","g":"pf","p":1,"x":1.25e16,"y":0.735},{"s":"PF case 1","g":"pf","p":1,"x":1.57e16,"y":0.735},{"s":"PF case 1","g":"pf","p":1,"x":1.81e16,"y":0.734},{"s":"PF case 1","g":"pf","p":0,"x":2e16,"y":0.733}
   ]},
   "encoding":{
    "x":{"field":"x","type":"quantitative","scale":{"type":"log","domain":[2e14,2e16],"nice":false},"axis":null},
    "y":{"field":"y","type":"quantitative","scale":{"domain":[0.3,0.9],"nice":false,"zero":false},"axis":null}},
   "layer":[
    {"transform":[{"filter":"datum.g=='th'"}],"mark":{"type":"line","color":"#ffa500","strokeWidth":1.5,"strokeDash":[9,4,2,4],"clip":true},
     "encoding":{
      "x":{"field":"x","type":"quantitative","scale":{"type":"log","domain":[2e14,2e16],"nice":false},"axis":{"orient":"top","values":[2e14,3e14,4e14,5e14,6e14,7e14,8e14,9e14,1e15,2e15,3e15,4e15,5e15,6e15,7e15,8e15,9e15,1e16,2e16],"labels":false,"tickSize":{"condition":{"test":"datum.value==1e14||datum.value==1e15||datum.value==1e16","value":-6},"value":-3},"title":null}},
      "y":{"field":"y","type":"quantitative","scale":{"domain":[0.3,0.9],"nice":false,"zero":false},"axis":{"orient":"right","values":[0.3,0.4,0.5,0.6,0.7,0.8,0.9],"labels":false,"tickSize":-6,"title":null}}}},
    {"transform":[{"filter":"datum.g=='pf'"}],"mark":{"type":"line","strokeWidth":1,"strokeOpacity":0.65,"clip":true},
     "encoding":{
      "stroke":{"field":"s","type":"nominal","scale":{"domain":["PF case 3","PF case 2","PF case 1","Rauh and Simon sol"],"range":["#ff0000","#0000ff","#00ee00","#ffa500"]}},
      "strokeDash":{"field":"s","type":"nominal","scale":{"domain":["PF case 3","PF case 2","PF case 1","Rauh and Simon sol"],"range":[[1.5,1.5],[1.5,1.5],[1.5,1.5],[7,2.5,1.5,2.5]]}}}},
    {"transform":[{"filter":"datum.p==1&&datum.s=='PF case 3'"}],"mark":{"type":"point","filled":true,"shape":"circle","color":"#ff0000","size":48,"opacity":1,"clip":true},
     "encoding":{
      "x":{"field":"x","type":"quantitative","scale":{"type":"log","domain":[2e14,2e16],"nice":false},"axis":{"orient":"bottom","values":[2e14,3e14,4e14,5e14,6e14,7e14,8e14,9e14,1e15,2e15,3e15,4e15,5e15,6e15,7e15,8e15,9e15,1e16,2e16],"labelExpr":"datum.value==1e14?'1x10¹⁴':datum.value==1e15?'1x10¹⁵':datum.value==1e16?'1x10¹⁶':''","tickSize":{"condition":{"test":"datum.value==1e14||datum.value==1e15||datum.value==1e16","value":-6},"value":-3},"labelPadding":14,"title":"ρ (m⁻²)","titlePadding":3}},
      "y":{"field":"y","type":"quantitative","scale":{"domain":[0.3,0.9],"nice":false,"zero":false},"axis":{"orient":"left","values":[0.3,0.4,0.5,0.6,0.7,0.8,0.9],"format":".1f","tickSize":-6,"labelPadding":12,"title":"Bias","titlePadding":6}}}},
    {"transform":[{"filter":"datum.p==1&&datum.s=='PF case 2'"}],"mark":{"type":"point","filled":true,"shape":"square","color":"#0000ff","size":48,"opacity":1,"clip":true}},
    {"transform":[{"filter":"datum.p==1&&datum.s=='PF case 1'"}],"mark":{"type":"point","filled":true,"shape":"triangle-up","color":"#00ee00","size":48,"opacity":1,"clip":true}},
    {"transform":[{"filter":"datum.p==99"}],"mark":{"type":"point","filled":true,"opacity":1},
     "encoding":{
      "shape":{"field":"s","type":"nominal","scale":{"domain":["PF case 3","PF case 2","PF case 1","Rauh and Simon sol"],"range":["M-3.5,0H3.5M-0.9,0A0.9,0.9,0,1,1,0.9,0A0.9,0.9,0,1,1,-0.9,0Z","M-3.5,0H3.5M-0.85,-0.85H0.85V0.85H-0.85Z","M-3.5,0H3.5M0,-0.85L0.9,0.65H-0.9Z","M-3.5,0H3.5"]},
       "legend":{"title":null,"orient":"none","legendX":135,"legendY":-32,"direction":"vertical","columns":2,"gridAlign":"each","padding":0,"labelAlign":"right","labelOffset":-25,"rowPadding":5,"columnPadding":32,"symbolSize":64,"symbolStrokeWidth":1,"symbolOpacity":1}},
      "fill":{"field":"s","type":"nominal","scale":{"domain":["PF case 3","PF case 2","PF case 1","Rauh and Simon sol"],"range":["#ff0000","#0000ff","#00ee00","#ffa500"]}},
      "stroke":{"field":"s","type":"nominal","scale":{"domain":["PF case 3","PF case 2","PF case 1","Rauh and Simon sol"],"range":["#ff0000","#0000ff","#00ee00","#ffa500"]}},
      "strokeDash":{"field":"s","type":"nominal","scale":{"domain":["PF case 3","PF case 2","PF case 1","Rauh and Simon sol"],"range":[[1.5,1.5],[1.5,1.5],[1.5,1.5],[7,2.5,1.5,2.5]]}}}}
   ],
   "resolve":{"axis":{"x":"independent","y":"independent"}}
  }
 ],
 "spacing":0,"bounds":"flush",
 "resolve":{"scale":{"color":"independent","stroke":"independent","shape":"independent","fill":"independent","strokeDash":"independent"}}
},
{
 "width":325,"height":206,
 "title":{"text":"Fe","orient":"left","angle":0,"align":"right","baseline":"alphabetic","offset":-16,"dy":-14},
 "data":{"values":[
{"s":"Rauh and Simon sol","g":"th","p":0,"x":2e14,"y":3.7},{"s":"Rauh and Simon sol","g":"th","p":0,"x":5e14,"y":4.8},{"s":"Rauh and Simon sol","g":"th","p":0,"x":1e15,"y":5.7},{"s":"Rauh and Simon sol","g":"th","p":0,"x":2e15,"y":7.0},{"s":"Rauh and Simon sol","g":"th","p":0,"x":3e15,"y":8.3},{"s":"Rauh and Simon sol","g":"th","p":0,"x":5e15,"y":9.9},{"s":"Rauh and Simon sol","g":"th","p":0,"x":7e15,"y":11.2},{"s":"Rauh and Simon sol","g":"th","p":0,"x":1e16,"y":13.4},{"s":"Rauh and Simon sol","g":"th","p":0,"x":1.3e16,"y":15.7},{"s":"Rauh and Simon sol","g":"th","p":0,"x":1.6e16,"y":20.3},{"s":"Rauh and Simon sol","g":"th","p":0,"x":1.8e16,"y":24.1},{"s":"Rauh and Simon sol","g":"th","p":0,"x":2e16,"y":29.3},
{"s":"PF case 3","g":"pf","p":1,"x":3.52e14,"y":9.0},{"s":"PF case 3","g":"pf","p":1,"x":6.38e14,"y":11.5},{"s":"PF case 3","g":"pf","p":1,"x":1e15,"y":14.2},{"s":"PF case 3","g":"pf","p":1,"x":1.32e15,"y":16.1},{"s":"PF case 3","g":"pf","p":1,"x":1.96e15,"y":19.6},{"s":"PF case 3","g":"pf","p":1,"x":2.86e15,"y":24.1},{"s":"PF case 3","g":"pf","p":1,"x":4.02e15,"y":29.3},{"s":"PF case 3","g":"pf","p":1,"x":5.24e15,"y":34.2},{"s":"PF case 3","g":"pf","p":1,"x":7.18e15,"y":41.2},{"s":"PF case 3","g":"pf","p":1,"x":1.01e16,"y":51.6},{"s":"PF case 3","g":"pf","p":1,"x":1.28e16,"y":59.6},{"s":"PF case 3","g":"pf","p":1,"x":1.83e16,"y":76.0},{"s":"PF case 3","g":"pf","p":0,"x":2e16,"y":79.6},
{"s":"PF case 2","g":"pf","p":1,"x":3.52e14,"y":7.9},{"s":"PF case 2","g":"pf","p":1,"x":6.38e14,"y":10.1},{"s":"PF case 2","g":"pf","p":1,"x":1e15,"y":12.1},{"s":"PF case 2","g":"pf","p":1,"x":1.32e15,"y":13.4},{"s":"PF case 2","g":"pf","p":1,"x":1.96e15,"y":16.1},{"s":"PF case 2","g":"pf","p":1,"x":2.86e15,"y":19.4},{"s":"PF case 2","g":"pf","p":1,"x":4.02e15,"y":22.8},{"s":"PF case 2","g":"pf","p":1,"x":5.24e15,"y":26.3},{"s":"PF case 2","g":"pf","p":1,"x":7.18e15,"y":30.6},{"s":"PF case 2","g":"pf","p":1,"x":1.01e16,"y":37.3},{"s":"PF case 2","g":"pf","p":1,"x":1.28e16,"y":41.5},{"s":"PF case 2","g":"pf","p":1,"x":1.83e16,"y":51.0},{"s":"PF case 2","g":"pf","p":0,"x":2e16,"y":53.2},
{"s":"PF case 1","g":"pf","p":1,"x":3.52e14,"y":8.0},{"s":"PF case 1","g":"pf","p":1,"x":6.38e14,"y":10.2},{"s":"PF case 1","g":"pf","p":1,"x":1e15,"y":12.2},{"s":"PF case 1","g":"pf","p":1,"x":1.32e15,"y":13.5},{"s":"PF case 1","g":"pf","p":1,"x":1.96e15,"y":16.2},{"s":"PF case 1","g":"pf","p":1,"x":2.86e15,"y":19.5},{"s":"PF case 1","g":"pf","p":1,"x":4.02e15,"y":22.9},{"s":"PF case 1","g":"pf","p":1,"x":5.24e15,"y":26.4},{"s":"PF case 1","g":"pf","p":1,"x":7.18e15,"y":30.7},{"s":"PF case 1","g":"pf","p":1,"x":1.01e16,"y":37.4},{"s":"PF case 1","g":"pf","p":1,"x":1.28e16,"y":41.6},{"s":"PF case 1","g":"pf","p":1,"x":1.83e16,"y":51.1},{"s":"PF case 1","g":"pf","p":0,"x":2e16,"y":53.3}
 ]},
 "layer":[
  {"transform":[{"filter":"datum.g=='th'"}],"mark":{"type":"line","color":"#ffa500","strokeWidth":1.5,"strokeDash":[9,4,2,4],"clip":true},
   "encoding":{
    "x":{"field":"x","type":"quantitative","scale":{"type":"log","domain":[2e14,2e16],"nice":false},"axis":{"orient":"top","values":[2e14,3e14,4e14,5e14,6e14,7e14,8e14,9e14,1e15,2e15,3e15,4e15,5e15,6e15,7e15,8e15,9e15,1e16,2e16],"labels":false,"tickSize":{"condition":{"test":"datum.value==1e14||datum.value==1e15||datum.value==1e16","value":-6},"value":-3},"title":null}},
    "y":{"field":"y","type":"quantitative","scale":{"domain":[0,80],"nice":false,"zero":false},"axis":{"orient":"right","values":[0,10,20,30,40,50,60,70,80],"labels":false,"tickSize":-6,"title":null}}}},
  {"transform":[{"filter":"datum.g=='pf'"}],"mark":{"type":"line","strokeWidth":1,"strokeDash":[1.5,1.5],"opacity":0.65,"clip":true},
   "encoding":{
    "x":{"field":"x","type":"quantitative","scale":{"type":"log","domain":[2e14,2e16],"nice":false},"axis":null},
    "y":{"field":"y","type":"quantitative","scale":{"domain":[0,80],"nice":false,"zero":false},"axis":null},
    "stroke":{"field":"s","type":"nominal","scale":{"domain":["PF case 3","PF case 2","PF case 1","Rauh and Simon sol"],"range":["#ff0000","#0000ff","#00ee00","#ffa500"]},"legend":null}}},
  {"transform":[{"filter":"datum.p==1"}],"mark":{"type":"point","filled":true,"opacity":1,"clip":true},
   "encoding":{
    "x":{"field":"x","type":"quantitative","scale":{"type":"log","domain":[2e14,2e16],"nice":false},"axis":{"orient":"bottom","values":[2e14,3e14,4e14,5e14,6e14,7e14,8e14,9e14,1e15,2e15,3e15,4e15,5e15,6e15,7e15,8e15,9e15,1e16,2e16],"labelExpr":"datum.value==1e14?'1x10¹⁴':datum.value==1e15?'1x10¹⁵':datum.value==1e16?'1x10¹⁶':''","tickSize":{"condition":{"test":"datum.value==1e14||datum.value==1e15||datum.value==1e16","value":-6},"value":-3},"labelPadding":14,"title":"ρ (m⁻²)","titlePadding":3}},
    "y":{"field":"y","type":"quantitative","scale":{"domain":[0,80],"nice":false,"zero":false},"axis":{"orient":"left","values":[0,10,20,30,40,50,60,70,80],"tickSize":-6,"labelPadding":12,"title":"k²/ρ","titlePadding":6}},
    "color":{"field":"s","type":"nominal","scale":{"domain":["PF case 3","PF case 2","PF case 1","Rauh and Simon sol"],"range":["#ff0000","#0000ff","#00ee00","#ffa500"]},"legend":null},
    "stroke":{"field":"s","type":"nominal","scale":{"domain":["PF case 3","PF case 2","PF case 1","Rauh and Simon sol"],"range":["#ff0000","#0000ff","#00ee00","#ffa500"]},"legend":null},
    "shape":{"field":"s","type":"nominal","scale":{"domain":["PF case 3","PF case 2","PF case 1","Rauh and Simon sol"],"range":["circle","square","triangle-up","circle"]},"legend":null},
    "size":{"value":48},"strokeWidth":{"value":0.5}}}
 ],
 "resolve":{"axis":{"x":"independent","y":"independent"}}
},
{
 "width":325,"height":206,
 "data":{"values":[
{"s":"Rauh and Simon sol","g":"th","p":0,"x":2e14,"y":1.95},{"s":"Rauh and Simon sol","g":"th","p":0,"x":5e14,"y":2.24},{"s":"Rauh and Simon sol","g":"th","p":0,"x":1e15,"y":2.58},{"s":"Rauh and Simon sol","g":"th","p":0,"x":3e15,"y":3.16},{"s":"Rauh and Simon sol","g":"th","p":0,"x":5e15,"y":3.6},{"s":"Rauh and Simon sol","g":"th","p":0,"x":1e16,"y":4.35},{"s":"Rauh and Simon sol","g":"th","p":0,"x":2e16,"y":5.28},
{"s":"PF case 3","g":"pf","p":1,"x":3.52e14,"y":3.6},{"s":"PF case 3","g":"pf","p":1,"x":6.38e14,"y":4.12},{"s":"PF case 3","g":"pf","p":1,"x":1e15,"y":4.7},{"s":"PF case 3","g":"pf","p":1,"x":1.32e15,"y":5.14},{"s":"PF case 3","g":"pf","p":1,"x":1.96e15,"y":5.89},{"s":"PF case 3","g":"pf","p":1,"x":2.86e15,"y":6.82},{"s":"PF case 3","g":"pf","p":1,"x":4.02e15,"y":7.9},{"s":"PF case 3","g":"pf","p":1,"x":5.24e15,"y":8.91},{"s":"PF case 3","g":"pf","p":1,"x":7.18e15,"y":10.37},{"s":"PF case 3","g":"pf","p":1,"x":1.01e16,"y":12.6},{"s":"PF case 3","g":"pf","p":1,"x":1.28e16,"y":14.2},{"s":"PF case 3","g":"pf","p":1,"x":1.83e16,"y":17.77},{"s":"PF case 3","g":"pf","p":0,"x":2e16,"y":18.3},
{"s":"PF case 2","g":"pf","p":1,"x":3.52e14,"y":2.87},{"s":"PF case 2","g":"pf","p":1,"x":6.38e14,"y":3.22},{"s":"PF case 2","g":"pf","p":1,"x":1e15,"y":3.66},{"s":"PF case 2","g":"pf","p":1,"x":1.32e15,"y":3.95},{"s":"PF case 2","g":"pf","p":1,"x":1.96e15,"y":4.36},{"s":"PF case 2","g":"pf","p":1,"x":2.86e15,"y":4.85},{"s":"PF case 2","g":"pf","p":1,"x":4.02e15,"y":5.49},{"s":"PF case 2","g":"pf","p":1,"x":5.24e15,"y":6.1},{"s":"PF case 2","g":"pf","p":1,"x":7.18e15,"y":6.94},{"s":"PF case 2","g":"pf","p":1,"x":1.01e16,"y":8.22},{"s":"PF case 2","g":"pf","p":1,"x":1.28e16,"y":9.15},{"s":"PF case 2","g":"pf","p":1,"x":1.83e16,"y":11.15},{"s":"PF case 2","g":"pf","p":0,"x":2e16,"y":11.67},
{"s":"PF case 1","g":"pf","p":1,"x":3.52e14,"y":3.02},{"s":"PF case 1","g":"pf","p":1,"x":6.38e14,"y":3.43},{"s":"PF case 1","g":"pf","p":1,"x":1e15,"y":3.89},{"s":"PF case 1","g":"pf","p":1,"x":1.32e15,"y":4.18},{"s":"PF case 1","g":"pf","p":1,"x":1.96e15,"y":4.62},{"s":"PF case 1","g":"pf","p":1,"x":2.86e15,"y":5.14},{"s":"PF case 1","g":"pf","p":1,"x":4.02e15,"y":5.78},{"s":"PF case 1","g":"pf","p":1,"x":5.24e15,"y":6.45},{"s":"PF case 1","g":"pf","p":1,"x":7.18e15,"y":7.32},{"s":"PF case 1","g":"pf","p":1,"x":1.01e16,"y":8.68},{"s":"PF case 1","g":"pf","p":1,"x":1.28e16,"y":9.64},{"s":"PF case 1","g":"pf","p":1,"x":1.83e16,"y":11.82},{"s":"PF case 1","g":"pf","p":0,"x":2e16,"y":12.25}
 ]},
 "layer":[
  {"transform":[{"filter":"datum.g=='th'"}],"mark":{"type":"line","color":"#ffa500","strokeWidth":1.5,"strokeDash":[9,4,2,4],"clip":true},
   "encoding":{
    "x":{"field":"x","type":"quantitative","scale":{"type":"log","domain":[2e14,2e16],"nice":false},"axis":{"orient":"top","values":[2e14,3e14,4e14,5e14,6e14,7e14,8e14,9e14,1e15,2e15,3e15,4e15,5e15,6e15,7e15,8e15,9e15,1e16,2e16],"labels":false,"tickSize":{"condition":{"test":"datum.value==1e14||datum.value==1e15||datum.value==1e16","value":-6},"value":-3},"title":null}},
    "y":{"field":"y","type":"quantitative","scale":{"domain":[0,18],"nice":false,"zero":false},"axis":{"orient":"right","values":[0,2,4,6,8,10,12,14,16,18],"labels":false,"tickSize":-6,"title":null}}}},
  {"transform":[{"filter":"datum.g=='pf'"}],"mark":{"type":"line","strokeWidth":1,"strokeDash":[1.5,1.5],"opacity":0.65,"clip":true},
   "encoding":{
    "x":{"field":"x","type":"quantitative","scale":{"type":"log","domain":[2e14,2e16],"nice":false},"axis":null},
    "y":{"field":"y","type":"quantitative","scale":{"domain":[0,18],"nice":false,"zero":false},"axis":null},
    "stroke":{"field":"s","type":"nominal","scale":{"domain":["PF case 3","PF case 2","PF case 1","Rauh and Simon sol"],"range":["#ff0000","#0000ff","#00ee00","#ffa500"]},"legend":null}}},
  {"transform":[{"filter":"datum.p==1"}],"mark":{"type":"point","filled":true,"opacity":1,"clip":true},
   "encoding":{
    "x":{"field":"x","type":"quantitative","scale":{"type":"log","domain":[2e14,2e16],"nice":false},"axis":{"orient":"bottom","values":[2e14,3e14,4e14,5e14,6e14,7e14,8e14,9e14,1e15,2e15,3e15,4e15,5e15,6e15,7e15,8e15,9e15,1e16,2e16],"labelExpr":"datum.value==1e14?'1x10¹⁴':datum.value==1e15?'1x10¹⁵':datum.value==1e16?'1x10¹⁶':''","tickSize":{"condition":{"test":"datum.value==1e14||datum.value==1e15||datum.value==1e16","value":-6},"value":-3},"labelPadding":14,"title":"ρ (m⁻²)","titlePadding":3}},
    "y":{"field":"y","type":"quantitative","scale":{"domain":[0,18],"nice":false,"zero":false},"axis":{"orient":"left","values":[0,2,4,6,8,10,12,14,16,18],"tickSize":-6,"labelPadding":12,"title":"k²/ρ","titlePadding":6}},
    "color":{"field":"s","type":"nominal","scale":{"domain":["PF case 3","PF case 2","PF case 1","Rauh and Simon sol"],"range":["#ff0000","#0000ff","#00ee00","#ffa500"]},"legend":null},
    "stroke":{"field":"s","type":"nominal","scale":{"domain":["PF case 3","PF case 2","PF case 1","Rauh and Simon sol"],"range":["#ff0000","#0000ff","#00ee00","#ffa500"]},"legend":null},
    "shape":{"field":"s","type":"nominal","scale":{"domain":["PF case 3","PF case 2","PF case 1","Rauh and Simon sol"],"range":["circle","square","triangle-up","circle"]},"legend":null},
    "size":{"value":48},"strokeWidth":{"value":0.5}}}
 ],
 "resolve":{"axis":{"x":"independent","y":"independent"}}
},
{
 "vconcat":[
  {"width":322,"height":31,"data":{"values":[]},"mark":"point","view":{"stroke":null}},
  {
   "width":322,"height":175,
   "data":{"values":[
{"s":"Rauh and Simon sol","g":"th","p":0,"x":2e14,"y":0.468},{"s":"Rauh and Simon sol","g":"th","p":0,"x":3.58e14,"y":0.501},{"s":"Rauh and Simon sol","g":"th","p":0,"x":6.5e14,"y":0.526},{"s":"Rauh and Simon sol","g":"th","p":0,"x":1e15,"y":0.546},{"s":"Rauh and Simon sol","g":"th","p":0,"x":1.95e15,"y":0.573},{"s":"Rauh and Simon sol","g":"th","p":0,"x":2.85e15,"y":0.591},{"s":"Rauh and Simon sol","g":"th","p":0,"x":5.24e15,"y":0.619},{"s":"Rauh and Simon sol","g":"th","p":0,"x":7.14e15,"y":0.637},{"s":"Rauh and Simon sol","g":"th","p":0,"x":1e16,"y":0.669},
{"s":"PF case 3","g":"pf","p":1,"x":3.58e14,"y":0.597},{"s":"PF case 3","g":"pf","p":1,"x":6.5e14,"y":0.642},{"s":"PF case 3","g":"pf","p":1,"x":1e15,"y":0.667},{"s":"PF case 3","g":"pf","p":1,"x":1.32e15,"y":0.682},{"s":"PF case 3","g":"pf","p":1,"x":1.95e15,"y":0.701},{"s":"PF case 3","g":"pf","p":1,"x":2.85e15,"y":0.718},{"s":"PF case 3","g":"pf","p":1,"x":4.01e15,"y":0.732},{"s":"PF case 3","g":"pf","p":1,"x":5.24e15,"y":0.740},{"s":"PF case 3","g":"pf","p":0,"x":1e16,"y":0.755},
{"s":"PF case 2","g":"pf","p":1,"x":3.58e14,"y":0.639},{"s":"PF case 2","g":"pf","p":1,"x":6.5e14,"y":0.676},{"s":"PF case 2","g":"pf","p":1,"x":1e15,"y":0.701},{"s":"PF case 2","g":"pf","p":1,"x":1.32e15,"y":0.715},{"s":"PF case 2","g":"pf","p":1,"x":1.95e15,"y":0.734},{"s":"PF case 2","g":"pf","p":1,"x":2.85e15,"y":0.748},{"s":"PF case 2","g":"pf","p":1,"x":4.01e15,"y":0.759},{"s":"PF case 2","g":"pf","p":1,"x":5.24e15,"y":0.767},{"s":"PF case 2","g":"pf","p":1,"x":7.14e15,"y":0.775},{"s":"PF case 2","g":"pf","p":0,"x":1e16,"y":0.779},
{"s":"PF case 1","g":"pf","p":1,"x":3.58e14,"y":0.627},{"s":"PF case 1","g":"pf","p":1,"x":6.5e14,"y":0.666},{"s":"PF case 1","g":"pf","p":1,"x":1e15,"y":0.69},{"s":"PF case 1","g":"pf","p":1,"x":1.32e15,"y":0.704},{"s":"PF case 1","g":"pf","p":1,"x":1.95e15,"y":0.722},{"s":"PF case 1","g":"pf","p":1,"x":2.85e15,"y":0.737},{"s":"PF case 1","g":"pf","p":1,"x":4.01e15,"y":0.748},{"s":"PF case 1","g":"pf","p":1,"x":5.24e15,"y":0.757},{"s":"PF case 1","g":"pf","p":1,"x":7.14e15,"y":0.763},{"s":"PF case 1","g":"pf","p":0,"x":1e16,"y":0.767}
   ]},
   "encoding":{
    "x":{"field":"x","type":"quantitative","scale":{"type":"log","domain":[2e14,1e16],"nice":false},"axis":null},
    "y":{"field":"y","type":"quantitative","scale":{"domain":[0.45,0.8],"nice":false,"zero":false},"axis":null}},
   "layer":[
    {"transform":[{"filter":"datum.g=='th'"}],"mark":{"type":"line","color":"#ffa500","strokeWidth":1.5,"strokeDash":[9,4,2,4],"clip":true},
     "encoding":{
      "x":{"field":"x","type":"quantitative","scale":{"type":"log","domain":[2e14,1e16],"nice":false},"axis":{"orient":"top","values":[2e14,3e14,4e14,5e14,6e14,7e14,8e14,9e14,1e15,2e15,3e15,4e15,5e15,6e15,7e15,8e15,9e15,1e16],"labels":false,"tickSize":{"condition":{"test":"datum.value==1e14||datum.value==1e15||datum.value==1e16","value":-6},"value":-3},"title":null}},
      "y":{"field":"y","type":"quantitative","scale":{"domain":[0.45,0.8],"nice":false,"zero":false},"axis":{"orient":"right","values":[0.45,0.5,0.55,0.6,0.65,0.7,0.75,0.8],"labels":false,"tickSize":-6,"title":null}}}},
    {"transform":[{"filter":"datum.g=='pf'"}],"mark":{"type":"line","strokeWidth":1,"strokeOpacity":0.65,"clip":true},
     "encoding":{
      "stroke":{"field":"s","type":"nominal","scale":{"domain":["PF case 3","PF case 2","PF case 1","Rauh and Simon sol"],"range":["#ff0000","#0000ff","#00ee00","#ffa500"]}},
      "strokeDash":{"field":"s","type":"nominal","scale":{"domain":["PF case 3","PF case 2","PF case 1","Rauh and Simon sol"],"range":[[1.5,1.5],[1.5,1.5],[1.5,1.5],[7,2.5,1.5,2.5]]}}}},
    {"transform":[{"filter":"datum.p==1&&datum.s=='PF case 3'"}],"mark":{"type":"point","filled":true,"shape":"circle","color":"#ff0000","size":48,"opacity":1,"clip":true},
     "encoding":{
      "x":{"field":"x","type":"quantitative","scale":{"type":"log","domain":[2e14,1e16],"nice":false},"axis":{"orient":"bottom","values":[2e14,3e14,4e14,5e14,6e14,7e14,8e14,9e14,1e15,2e15,3e15,4e15,5e15,6e15,7e15,8e15,9e15,1e16],"labelExpr":"datum.value==1e14?'1x10¹⁴':datum.value==1e15?'1x10¹⁵':datum.value==1e16?'1x10¹⁶':''","tickSize":{"condition":{"test":"datum.value==1e14||datum.value==1e15||datum.value==1e16","value":-6},"value":-3},"labelPadding":14,"title":"ρ (m⁻²)","titlePadding":3}},
      "y":{"field":"y","type":"quantitative","scale":{"domain":[0.45,0.8],"nice":false,"zero":false},"axis":{"orient":"left","values":[0.45,0.5,0.55,0.6,0.65,0.7,0.75,0.8],"format":".2~f","tickSize":-6,"labelPadding":12,"title":"Bias","titlePadding":6}}}},
    {"transform":[{"filter":"datum.p==1&&datum.s=='PF case 2'"}],"mark":{"type":"point","filled":true,"shape":"square","color":"#0000ff","size":48,"opacity":1,"clip":true}},
    {"transform":[{"filter":"datum.p==1&&datum.s=='PF case 1'"}],"mark":{"type":"point","filled":true,"shape":"triangle-up","color":"#00ee00","size":48,"opacity":1,"clip":true}},
    {"transform":[{"filter":"datum.p==99"}],"mark":{"type":"point","filled":true,"opacity":1},
     "encoding":{
      "shape":{"field":"s","type":"nominal","scale":{"domain":["PF case 3","PF case 2","PF case 1","Rauh and Simon sol"],"range":["M-3.5,0H3.5M-0.9,0A0.9,0.9,0,1,1,0.9,0A0.9,0.9,0,1,1,-0.9,0Z","M-3.5,0H3.5M-0.85,-0.85H0.85V0.85H-0.85Z","M-3.5,0H3.5M0,-0.85L0.9,0.65H-0.9Z","M-3.5,0H3.5"]},
       "legend":{"title":null,"orient":"none","legendX":139,"legendY":-31,"direction":"vertical","columns":2,"gridAlign":"each","padding":0,"labelAlign":"right","labelOffset":-25,"rowPadding":4,"columnPadding":17,"symbolSize":64,"symbolStrokeWidth":1,"symbolOpacity":1}},
      "fill":{"field":"s","type":"nominal","scale":{"domain":["PF case 3","PF case 2","PF case 1","Rauh and Simon sol"],"range":["#ff0000","#0000ff","#00ee00","#ffa500"]}},
      "stroke":{"field":"s","type":"nominal","scale":{"domain":["PF case 3","PF case 2","PF case 1","Rauh and Simon sol"],"range":["#ff0000","#0000ff","#00ee00","#ffa500"]}},
      "strokeDash":{"field":"s","type":"nominal","scale":{"domain":["PF case 3","PF case 2","PF case 1","Rauh and Simon sol"],"range":[[1.5,1.5],[1.5,1.5],[1.5,1.5],[7,2.5,1.5,2.5]]}}}}
   ],
   "resolve":{"axis":{"x":"independent","y":"independent"}}
  }
 ],
 "spacing":0,"bounds":"flush",
 "resolve":{"scale":{"color":"independent","stroke":"independent","shape":"independent","fill":"independent","strokeDash":"independent"}}
}
]
}
